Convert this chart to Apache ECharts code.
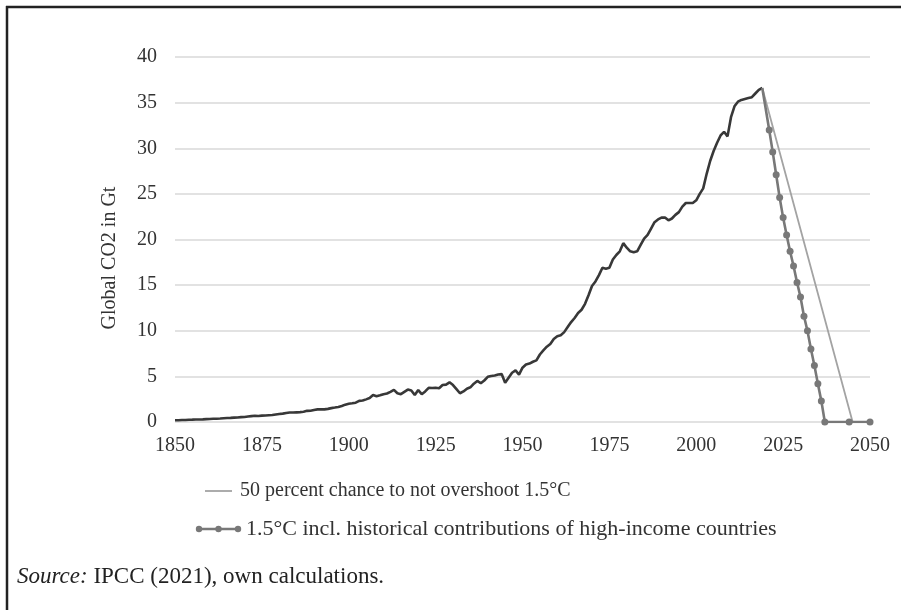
<!DOCTYPE html>
<html>
<head>
<meta charset="utf-8">
<script src="https://cdn.jsdelivr.net/npm/echarts@6/dist/echarts.min.js"></script>
<style>
html,body{margin:0;padding:0;background:#fff;}
#chart{width:901px;height:610px;}
</style>
</head>
<body>
<div id="chart"></div>
<script>
// Historical global CO2 emissions (Gt), yearly 1850-2019
var histStartYear = 1850;
var histValues = [
  0.20,0.20,0.22,0.22,0.25,0.26,0.28,0.28,0.29,0.31,
  0.33,0.35,0.36,0.38,0.41,0.44,0.45,0.48,0.50,0.53,
  0.55,0.60,0.64,0.68,0.66,0.70,0.72,0.74,0.76,0.82,
  0.88,0.92,0.98,1.04,1.04,1.06,1.08,1.12,1.22,1.24,
  1.32,1.38,1.40,1.38,1.44,1.52,1.58,1.65,1.75,1.90,
  2.00,2.05,2.12,2.32,2.35,2.48,2.62,2.95,2.82,2.92,
  3.05,3.12,3.30,3.52,3.15,3.05,3.30,3.55,3.45,2.95,
  3.50,3.05,3.35,3.75,3.72,3.75,3.70,4.05,4.10,4.35,
  4.05,3.60,3.15,3.35,3.65,3.80,4.20,4.50,4.25,4.55,
  4.95,5.05,5.10,5.20,5.25,4.30,4.85,5.40,5.65,5.20,
  5.95,6.30,6.40,6.60,6.75,7.40,7.85,8.25,8.55,9.10,
  9.40,9.50,9.85,10.40,10.95,11.40,11.95,12.30,12.95,13.90,
  14.90,15.40,16.10,16.90,16.80,16.90,17.80,18.30,18.70,19.60,
  19.10,18.70,18.60,18.70,19.40,20.10,20.50,21.20,21.90,22.20,
  22.40,22.40,22.10,22.30,22.70,23.00,23.60,24.00,24.00,24.00,
  24.30,25.00,25.60,27.20,28.60,29.70,30.60,31.40,31.80,31.30,
  33.40,34.60,35.10,35.30,35.40,35.50,35.60,36.00,36.40,36.60
];

// Scenario: 50 percent chance to not overshoot 1.5°C
var s50Years  = [2019, 2045, 2050];
var s50Values = [36.6, 0, 0];

// Scenario: 1.5°C incl. historical contributions of high-income countries
var sHistYears  = [2019, 2021, 2022, 2023, 2024, 2025, 2026, 2027, 2028, 2029, 2030,
                   2031, 2032, 2033, 2034, 2035, 2036, 2037, 2044, 2050];
var sHistValues = [36.6, 32.0, 29.6, 27.1, 24.6, 22.4, 20.5, 18.7, 17.1, 15.3, 13.7,
                   11.6, 10.0, 8.0, 6.2, 4.2, 2.3, 0, 0, 0];

var legendNames = ['50 percent chance to not overshoot 1.5°C',
                   '1.5°C incl. historical contributions of high-income countries'];
var yAxisTitle = 'Global CO2 in Gt';

var histData = histValues.map(function(v, i){ return [histStartYear + i, v]; });
var s50Data = s50Years.map(function(y, i){ return [y, s50Values[i]]; });
var sHistData = sHistYears.map(function(y, i){
  var p = {value: [y, sHistValues[i]]};
  if (i === 0) p.symbol = 'none';
  return p;
});

var FONT = '"Liberation Serif", "DejaVu Serif", serif';
var C50 = '#a3a3a3', CH = '#787878';
var chart = echarts.init(document.getElementById('chart'), null, {renderer: 'canvas'});
chart.setOption({
  backgroundColor: '#ffffff',
  animation: false,
  grid: {left: 175, right: 31, top: 57, bottom: 188},
  xAxis: {
    type: 'value', min: 1850, max: 2050, interval: 25,
    axisLine: {show: false}, axisTick: {show: false}, splitLine: {show: false},
    axisLabel: {color: '#333', fontFamily: FONT, fontSize: 20, margin: 14,
                formatter: function(v){ return String(v); }}
  },
  yAxis: {
    type: 'value', min: 0, max: 40, interval: 5,
    axisLine: {show: false}, axisTick: {show: false},
    splitLine: {lineStyle: {color: '#d9d9d9', width: 1.5}},
    axisLabel: {color: '#333', fontFamily: FONT, fontSize: 20, margin: 18}
  },
  series: [
    {
      name: 'Historical', type: 'line', data: histData, showSymbol: false,
      lineStyle: {color: '#383838', width: 2.6}, itemStyle: {color: '#383838'}, z: 3
    },
    {
      name: legendNames[0], type: 'line', data: s50Data, showSymbol: false, symbol: 'none',
      lineStyle: {color: C50, width: 1.8}, itemStyle: {color: C50}, z: 2
    },
    {
      name: legendNames[1], type: 'line', data: sHistData, symbol: 'circle', symbolSize: 7,
      lineStyle: {color: CH, width: 2.6}, itemStyle: {color: CH}, z: 4
    }
  ],
  graphic: [
    {type: 'line', shape: {x1: 6, y1: 7, x2: 901, y2: 7}, style: {stroke: '#222', lineWidth: 2.5}},
    {type: 'line', shape: {x1: 7, y1: 6, x2: 7, y2: 610}, style: {stroke: '#222', lineWidth: 2.5}},
    {type: 'text', x: 110, y: 258, rotation: Math.PI / 2,
     style: {text: yAxisTitle, fill: '#333', font: '20px ' + FONT, textAlign: 'center', textVerticalAlign: 'middle'}},
    // legend item 1
    {type: 'line', shape: {x1: 205, y1: 491, x2: 232, y2: 491}, style: {stroke: C50, lineWidth: 1.8}},
    {type: 'text', x: 240, y: 491,
     style: {text: legendNames[0], fill: '#333', font: '20px ' + FONT, textVerticalAlign: 'middle'}},
    // legend item 2
    {type: 'line', shape: {x1: 198, y1: 529, x2: 239, y2: 529}, style: {stroke: CH, lineWidth: 2.6}},
    {type: 'circle', shape: {cx: 199, cy: 529, r: 3.2}, style: {fill: CH}},
    {type: 'circle', shape: {cx: 218.5, cy: 529, r: 3.2}, style: {fill: CH}},
    {type: 'circle', shape: {cx: 238, cy: 529, r: 3.2}, style: {fill: CH}},
    {type: 'text', x: 246, y: 529,
     style: {text: legendNames[1], fill: '#333', font: '22px ' + FONT, textVerticalAlign: 'middle'}},
    {type: 'text', left: 17, top: 565,
     style: {rich: {i: {fontStyle: 'italic', fontFamily: FONT, fontSize: 23, fill: '#222'},
                    n: {fontFamily: FONT, fontSize: 23, fill: '#222'}},
             text: '{i|Source:}{n| IPCC (2021), own calculations.}'}}
  ]
});
</script>
</body>
</html>
